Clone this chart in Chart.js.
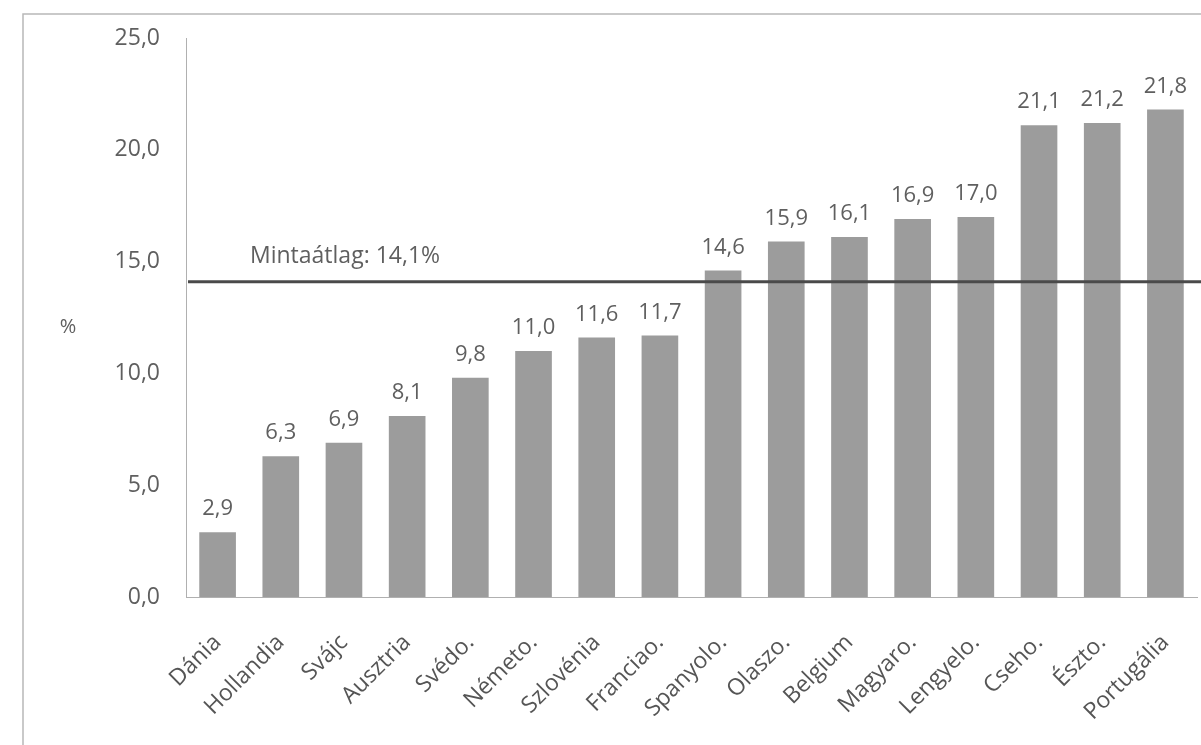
<!DOCTYPE html>
<html>
<head>
<meta charset="utf-8">
<script src="https://cdn.jsdelivr.net/npm/chart.js@4.4.1/dist/chart.umd.min.js"></script>
<style>
  html, body { margin: 0; padding: 0; background: #fff; }
  #wrap { width: 1201px; height: 745px; position: relative; }
</style>
</head>
<body>
<div id="wrap"><canvas id="chart" width="1201" height="745"></canvas></div>
<script>
const countries = ["Dánia", "Hollandia", "Svájc", "Ausztria", "Svédo.", "Németo.", "Szlovénia", "Franciao.",
  "Spanyolo.", "Olaszo.", "Belgium", "Magyaro.", "Lengyelo.", "Cseho.", "Észto.", "Portugália"];
const shares = [2.9, 6.3, 6.9, 8.1, 9.8, 11.0, 11.6, 11.7, 14.6, 15.9, 16.1, 16.9, 17.0, 21.1, 21.2, 21.8];
const sampleMean = 14.1;
const meanLabel = "Mintaátlag: 14,1%";
const yTicks = [0, 5, 10, 15, 20, 25];

const fontFamily = "'Open Sans', 'Noto Sans', sans-serif";
const textColor = "#5f5f5f";

function huNum(v) {
  return v.toFixed(1).replace(".", ",");
}

// frame, % title, mean line and value labels
const extras = {
  id: "extras",
  beforeDraw(chart) {
    const ctx = chart.ctx;
    ctx.save();
    ctx.strokeStyle = "#b8b8b8";
    ctx.lineWidth = 1.5;
    ctx.strokeRect(23, 14, 1400, 900);
    ctx.restore();
  },
  afterDatasetsDraw(chart) {
    const ctx = chart.ctx;
    const area = chart.chartArea;
    const yScale = chart.scales.y;
    ctx.save();

    // value labels
    ctx.font = "22px " + fontFamily;
    ctx.fillStyle = textColor;
    ctx.textAlign = "center";
    ctx.textBaseline = "bottom";
    chart.getDatasetMeta(0).data.forEach((bar, i) => {
      ctx.fillText(huNum(shares[i]), bar.x, bar.y - 12);
    });

    // mean line
    const yMean = yScale.getPixelForValue(sampleMean);
    ctx.strokeStyle = "#4a4a4a";
    ctx.lineWidth = 3;
    ctx.beginPath();
    ctx.moveTo(area.left + 2, yMean);
    ctx.lineTo(chart.width, yMean);
    ctx.stroke();

    ctx.font = "23px " + fontFamily;
    ctx.textAlign = "left";
    ctx.textBaseline = "bottom";
    ctx.fillText(meanLabel, 250, yMean - 14);

    // axis title
    ctx.font = "20px " + fontFamily;
    ctx.textAlign = "center";
    ctx.textBaseline = "middle";
    ctx.fillText("%", 68, (area.top + area.bottom) / 2 + 10);
    ctx.restore();
  }
};

new Chart(document.getElementById("chart"), {
  type: "bar",
  data: {
    labels: countries,
    datasets: [{
      label: "%",
      data: shares,
      backgroundColor: "#9c9c9c",
      borderWidth: 0,
      barPercentage: 0.58,
      categoryPercentage: 1.0
    }]
  },
  options: {
    responsive: false,
    animation: false,
    layout: { padding: { left: 0, top: 38, right: 4, bottom: 0 } },
    plugins: {
      legend: { display: false },
      tooltip: { enabled: false }
    },
    scales: {
      x: {
        grid: { display: false, drawTicks: false },
        border: { display: true, color: "#b0b0b0", dash: [2, 2], width: 1 },
        ticks: {
          color: "#555",
          font: { family: fontFamily, size: 23 },
          minRotation: 45,
          maxRotation: 45,
          autoSkip: false,
          padding: 32
        },
        afterFit(scale) {
          scale.height = 148;
          scale.paddingLeft = 0;
          scale.paddingRight = 0;
        }
      },
      y: {
        min: 0,
        max: 25,
        afterBuildTicks(scale) { scale.ticks = yTicks.map(v => ({ value: v })); },
        grid: { display: false, drawTicks: false },
        border: { display: true, color: "#b0b0b0", dash: [2, 2], width: 1 },
        ticks: {
          color: textColor,
          font: { family: fontFamily, size: 23 },
          padding: 26,
          callback: v => huNum(v)
        },
        afterFit(scale) {
          scale.width = 186;
          scale.paddingTop = 0;
          scale.paddingBottom = 0;
        }
      }
    }
  },
  plugins: [extras]
});
</script>
</body>
</html>
